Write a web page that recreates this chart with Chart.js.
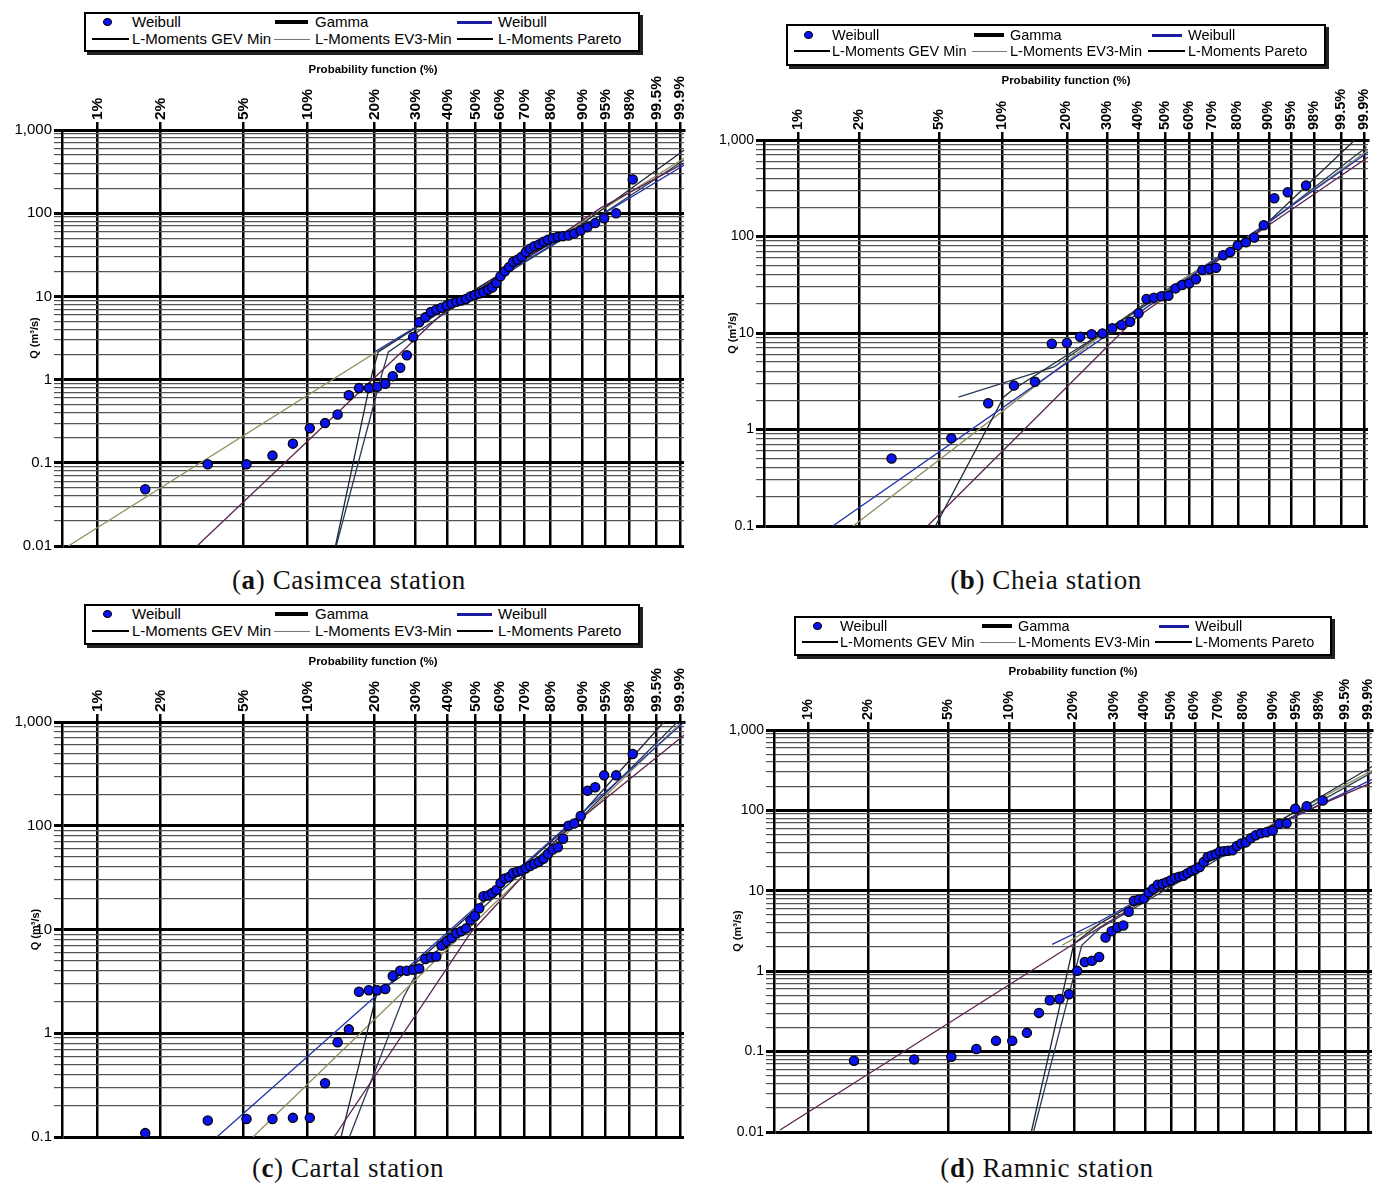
<!DOCTYPE html>
<html>
<head>
<meta charset="utf-8">
<script src="https://cdn.jsdelivr.net/npm/chart.js@4.4.1/dist/chart.umd.min.js"></script>
<style>
body{margin:0;width:1384px;height:1183px;background:#fff;position:relative;overflow:hidden;font-family:"Liberation Sans",Arial,sans-serif}
canvas{position:absolute}
.leg{position:absolute;border:2px solid #000;box-shadow:3px 3px 0 #222;background:#fff;box-sizing:border-box}
.leg div{position:absolute}
.cap{position:absolute;width:600px;text-align:center;font-family:"Liberation Serif","Times New Roman",serif;font-size:27px;line-height:30px;letter-spacing:0.6px;color:#111}
</style>
</head>
<body>
<canvas id="chartA" width="700" height="500" style="left:0;top:56px"></canvas>
<canvas id="chartB" width="684" height="470" style="left:700px;top:66px"></canvas>
<canvas id="chartC" width="700" height="500" style="left:0;top:648px"></canvas>
<canvas id="chartD" width="680" height="486" style="left:704px;top:656px"></canvas>
<div class="cap" style="left:49px;top:565px">(<b>a</b>) Casimcea station</div>
<div class="cap" style="left:746px;top:565px">(<b>b</b>) Cheia station</div>
<div class="cap" style="left:48px;top:1153px">(<b>c</b>) Cartal station</div>
<div class="cap" style="left:747px;top:1153px">(<b>d</b>) Ramnic station</div>
<script>
// probability axis (Weibull paper)
var probTicks = [1, 2, 5, 10, 20, 30, 40, 50, 60, 70, 80, 90, 95, 98, 99.5, 99.9];
var probTickLabels = ['1%','2%','5%','10%','20%','30%','40%','50%','60%','70%','80%','90%','95%','98%','99.5%','99.9%'];
var decadeValues = [0.01, 0.1, 1, 10, 100, 1000];
var decadeLabels = ['0.01', '0.1', '1', '10', '100', '1,000'];
var legendNames = ['Weibull', 'Gamma', 'Weibull', 'L-Moments GEV Min', 'L-Moments EV3-Min', 'L-Moments Pareto'];

// plotting positions (%)
var plotPos57 = [1.7,3.4,5.2,6.9,8.6,10.3,12.1,13.8,15.5,17.2,19.0,20.7,22.4,24.1,25.9,27.6,29.3,31.0,32.8,34.5,
  36.2,37.9,39.7,41.4,43.1,44.8,46.6,48.3,50.0,51.7,53.4,55.2,56.9,58.6,60.3,62.1,63.8,65.5,67.2,69.0,
  70.7,72.4,74.1,75.9,77.6,79.3,81.0,82.8,84.5,86.2,87.9,89.7,91.4,93.1,94.8,96.6,98.3];
var plotPos34 = [2.9,5.7,8.6,11.4,14.3,17.1,20.0,22.9,25.7,28.6,31.4,34.3,37.1,40.0,42.9,45.7,48.6,51.4,54.3,57.1,
  60.0,62.9,65.7,68.6,71.4,74.3,77.1,80.0,82.9,85.7,88.6,91.4,94.3,97.1];

// observed Q (m3/s)
var qCasimcea = [0.048,0.096,0.096,0.122,0.17,0.26,0.30,0.38,0.65,0.79,0.79,0.82,0.89,1.1,1.39,1.96,3.25,4.9,5.6,6.5,
  6.9,7.3,7.8,8.2,8.6,8.9,9.3,10,10.4,10.8,11.2,12,12.8,14.5,17.5,20,22.5,26,27.5,30,
  34,37.5,40,42,45.5,48,50,52,53,54,57,62,68,76,87,100,255];
var qCheia = [0.50,0.81,1.87,2.85,3.13,7.74,7.9,9.16,9.7,9.9,11.2,12.1,13.1,16,22.5,23.2,24.0,24.3,29,31.4,
  32.6,36,45,46,47.5,64,69,81,87,97.5,131,249,287,337];
var qCartal = [0.109,0.144,0.149,0.149,0.153,0.153,0.33,0.82,1.09,2.51,2.6,2.6,2.67,3.56,4.0,4.0,4.1,4.2,5.2,5.4,
  5.5,7.0,7.7,8.3,9.2,9.6,10.2,12.3,13.5,16,20.9,21.3,22.5,24,28,31,32,35,36,37,
  39,41,43,45,48,53.5,59,62,75,100,105,124,218,235,306,306,492];
var qRamnic = [0.077,0.080,0.086,0.108,0.136,0.136,0.171,0.303,0.436,0.45,0.518,1.01,1.30,1.35,1.5,2.62,3.14,3.5,3.7,5.5,
  7.5,7.8,8.0,9.5,10.6,11.9,12.2,12.8,13.5,14.4,15,15.4,16.5,17.7,18.5,19.8,22.8,26.4,27.5,28.6,
  30.8,31,31.5,32,36,38.8,40,45,49,52,53.5,56,68,69,105,113,133];

// fitted curves [probability %, Q]
var gammaA = [[3.02,0.01],[37.6,5.97],[68.6,25.9],[94.2,116],[99.93,401]];
var weibullA = [[20.1,2.15],[99.93,379]];
var gevA = [[13.5,0.01],[19.7,1.23],[20.9,2.15],[49.8,11.9],[89.7,72],[99.93,575]];
var ev3A = [[0.72,0.01],[99.93,460]];
var paretoA = [[13.6,0.01],[21.3,0.99],[23.1,2.15],[49.8,11.0],[89.7,66],[99.93,436]];

var gammaB = [[4.36,0.1],[39.1,14.3],[84.8,98.9],[99.93,667]];
var weibullB = [[1.48,0.1],[42.7,18.2],[99.93,751]];
var gevB = [[4.77,0.1],[10.2,2.17],[11.2,2.57],[42.7,19.5],[84.8,96.4],[99.8,1000]];
var ev3B = [[1.87,0.1],[31.0,11.3],[84.8,104],[99.93,787]];
var paretoB = [[6.18,2.17],[17.5,4.45],[42.7,20.5],[84.8,101],[99.92,846]];

var gammaC = [[13.3,0.1],[48.3,9.25],[83.7,81.5],[99.93,750]];
var weibullC = [[3.76,0.1],[52.2,18.0],[99.93,1000]];
var gevC = [[14.3,0.1],[20.6,2.43],[26.0,3.51],[52.2,17.2],[89.7,127],[99.69,1000]];
var ev3C = [[5.58,0.1],[52.2,13.2],[99.9,960]];
var paretoC = [[15.6,0.1],[26.8,2.25],[31.3,4.38],[52.2,15.4],[89.7,119],[99.88,1000]];

var gammaD = [[0.72,0.0106],[26.1,3.52],[82.5,48.9],[99.93,223]];
var weibullD = [[15.9,2.16],[26.1,4.18],[82.5,44.9],[99.93,243]];
var gevD = [[12.7,0.01],[20.0,2.21],[26.1,3.92],[82.5,44.9],[99.93,352]];
var ev3D = [[17.7,2.1],[82.5,47.5],[99.93,314]];
var paretoD = [[13.0,0.01],[21.7,2.1],[26.1,3.42],[82.5,42.4],[99.93,297]];

var FONT = '"Liberation Sans", Arial, sans-serif';
var fitColors = ['#5b2350', '#2233aa', '#1b2838', '#8f8f60', '#2a3b55'];

function red(p){ return Math.log(-Math.log(1 - p / 100)); }
function isDecade(v){ var l = Math.log10(v); return Math.abs(l - Math.round(l)) < 1e-6; }

function yGrid(min){
  var out = [];
  for (var i = 0; i < decadeValues.length; i++){
    var d = decadeValues[i];
    if (d < min - 1e-12) continue;
    out.push(d);
    if (d < 1000) for (var m = 2; m <= 9; m++) out.push(m * d);
  }
  return out;
}

function drawChart(id, ps, qs, fits, o){
  var sets = [{
    data: ps.map(function(p, i){ return {x: red(p), y: qs[i]}; }),
    showLine: false, pointRadius: 4.6, pointBackgroundColor: '#0b12f2',
    pointBorderColor: '#000', pointBorderWidth: 1.3, clip: 10
  }];
  fits.forEach(function(f, k){
    sets.push({
      data: f.map(function(d){ return {x: red(d[0]), y: d[1]}; }),
      showLine: true, pointRadius: 0, borderColor: fitColors[k], borderWidth: 1.3, fill: false
    });
  });
  var ctx = document.getElementById(id).getContext('2d');
  return new Chart(ctx, {
    type: 'scatter',
    data: {datasets: sets},
    options: {
      responsive: false, animation: false, devicePixelRatio: 1,
      layout: {padding: {left: 0, top: 0, right: o.pr, bottom: o.pb}},
      plugins: {legend: {display: false}, tooltip: {enabled: false}},
      scales: {
        x: {
          type: 'linear', position: 'top', min: -5, max: 1.98,
          afterBuildTicks: function(s){ s.ticks = probTicks.map(function(p){ return {value: red(p)}; }); },
          afterFit: function(s){ s.height = 74; s.paddingLeft = 0; s.paddingRight = 0; },
          ticks: {autoSkip: false, minRotation: 90, maxRotation: 90, padding: 2, color: '#000',
            labelOffset: Math.round(o.xf * 1.2),
            font: {family: FONT, size: o.xf, weight: 'bold'},
            callback: function(v, i){ return probTickLabels[i]; }},
          grid: {color: '#000', lineWidth: 2.5, tickLength: 8},
          border: {display: true, color: '#000', width: 3},
          title: {display: true, text: 'Probability function (%)', color: '#000',
            font: {family: FONT, size: 11.5, weight: 'bold'}, padding: {top: o.xt, bottom: 0}}
        },
        y: {
          type: 'logarithmic', min: o.ymin, max: 1000,
          afterBuildTicks: function(s){ s.ticks = yGrid(o.ymin).map(function(v){ return {value: v}; }); },
          afterFit: function(s){ s.width = o.yw; s.paddingTop = 0; s.paddingBottom = 0; },
          ticks: {autoSkip: false, padding: 2, color: '#000', font: {family: FONT, size: o.yf},
            callback: function(v){
              for (var i = 0; i < decadeValues.length; i++)
                if (Math.abs(Math.log10(v) - Math.log10(decadeValues[i])) < 1e-6) return decadeLabels[i];
              return '';
            }},
          grid: {
            color: function(c){ return c.tick && !isDecade(c.tick.value) ? '#555' : '#000'; },
            lineWidth: function(c){ return c.tick && !isDecade(c.tick.value) ? 1.2 : 3; },
            tickLength: 8
          },
          border: {display: true, color: '#000', width: 2.5},
          title: {display: true, text: 'Q (m³/s)', color: '#000',
            font: {family: FONT, size: 11, weight: 'bold'}, padding: {top: o.yt, bottom: 0}}
        }
      }
    }
  });
}

function buildLegend(left, top, w, h, g){
  var box = document.createElement('div');
  box.className = 'leg';
  box.style.cssText = 'left:' + left + 'px;top:' + top + 'px;width:' + w + 'px;height:' + h + 'px';
  var syms = [
    {dot: true},
    {c: '#000', t: 4},
    {c: '#1c1ca0', t: 3},
    {c: '#000', t: 1.5},
    {c: '#777', t: 1},
    {c: '#000', t: 2}
  ];
  for (var k = 0; k < 6; k++){
    var r = Math.floor(k / 3), col = k % 3, cy = g.rows[r] - 2;
    var s = document.createElement('div');
    if (syms[k].dot){
      s.style.cssText = 'left:' + (g.dot - 4.5) + 'px;top:' + (cy - 4) + 'px;width:9px;height:8px;border-radius:50%;background:#0b12f2;border:0.5px solid #000;box-sizing:border-box';
    } else {
      var sx = r === 0 ? g.sym1[col] : g.sym2[col];
      s.style.cssText = 'left:' + sx[0] + 'px;top:' + (cy - syms[k].t / 2) + 'px;width:' + (sx[1] - sx[0]) + 'px;height:' + syms[k].t + 'px;background:' + syms[k].c;
    }
    box.appendChild(s);
    var t = document.createElement('div');
    t.textContent = legendNames[k];
    t.style.cssText = 'left:' + g.text[col] + 'px;top:' + (cy - 9) + 'px;line-height:18px;font-size:' + g.fs + 'px;color:#000;white-space:nowrap';
    box.appendChild(t);
  }
  document.body.appendChild(box);
}

var geoAC = {dot: 21, text: [46, 229, 412], sym1: [[6, 43], [189, 222], [371, 406]], sym2: [[6, 43], [188, 224], [371, 407]], rows: [10, 27], fs: 15};
var geoB = {dot: 20, text: [44, 222, 400], sym1: [[6, 42], [186, 216], [364, 394]], sym2: [[6, 42], [184, 219], [360, 397]], rows: [11, 27], fs: 14.5};
var geoD = {dot: 21, text: [44, 222, 399], sym1: [[6, 42], [186, 216], [363, 393]], sym2: [[6, 42], [184, 220], [359, 396]], rows: [10, 26], fs: 14.5};

buildLegend(84, 12, 556, 40, geoAC);
buildLegend(786, 24, 540, 42, geoB);
buildLegend(84, 604, 556, 41, geoAC);
buildLegend(794, 616, 538, 40, geoD);

drawChart('chartA', plotPos57, qCasimcea, [gammaA, weibullA, gevA, ev3A, paretoA],
  {ymin: 0.01, yw: 62, pr: 16, pb: 10, xf: 15.5, yf: 15, xt: 7, yt: 28});
drawChart('chartB', plotPos34, qCheia, [gammaB, weibullB, gevB, ev3B, paretoB],
  {ymin: 0.1, yw: 64, pr: 16, pb: 10, xf: 14.5, yf: 14, xt: 8, yt: 26});
drawChart('chartC', plotPos57, qCartal, [gammaC, weibullC, gevC, ev3C, paretoC],
  {ymin: 0.1, yw: 62, pr: 16, pb: 11, xf: 15.5, yf: 15, xt: 7, yt: 29});
drawChart('chartD', plotPos57, qRamnic, [gammaD, weibullD, gevD, ev3D, paretoD],
  {ymin: 0.01, yw: 70, pr: 12, pb: 10, xf: 14.5, yf: 14, xt: 9, yt: 27});
</script>
</body>
</html>
